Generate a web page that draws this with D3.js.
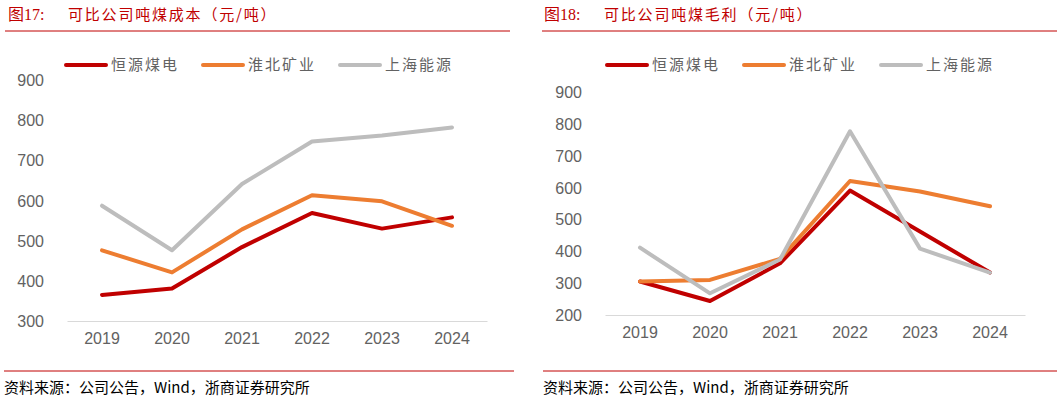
<!DOCTYPE html>
<html>
<head>
<meta charset="utf-8">
<script src="https://cdn.jsdelivr.net/npm/d3@7"></script>
<style>
  body { margin: 0; background: #fff; }
  svg { display: block; }
  .cjk { font-family: "Noto Sans CJK SC", sans-serif; }
  .tick text { font-family: "Liberation Sans", Arial, sans-serif; font-size: 16px; fill: #626262; }
</style>
</head>
<body>
<svg id="chart" width="1057" height="402"></svg>
<script>
// categories
const years = ["2019", "2020", "2021", "2022", "2023", "2024"];
const seriesNames = ["恒源煤电", "淮北矿业", "上海能源"];
const seriesColors = ["#C00000", "#ED7D31", "#BDBDBD"];

// Fig 17: cost per ton (yuan/ton)
const costHengyuan = [365, 381, 484, 569, 530, 558];
const costHuaibei = [476, 421, 528, 613, 598, 537];
const costShanghai = [587, 476, 641, 747, 762, 782];
const costTicks = [300, 400, 500, 600, 700, 800, 900];

// Fig 18: gross margin per ton (yuan/ton)
const marginHengyuan = [305, 244, 362, 590, 462, 333];
const marginHuaibei = [305, 310, 376, 620, 587, 541];
const marginShanghai = [411, 268, 374, 776, 408, 333];
const marginTicks = [200, 300, 400, 500, 600, 700, 800, 900];

const svg = d3.select("#chart");
const red = "#C00000";

function drawPanel(opts) {
  const g = svg.append("g").attr("transform", `translate(${opts.x0},0)`);

  // title
  g.append("text")
    .attr("x", opts.titleX).attr("y", 20)
    .attr("fill", red)
    .style("font-family", "\"Liberation Serif\", \"Noto Sans CJK SC\", serif")
    .style("font-size", "16px")
    .text(opts.figNo);
  g.append("text")
    .attr("class", "cjk")
    .attr("x", opts.titleX + 60).attr("y", 20)
    .attr("fill", red)
    .style("font-size", "15px")
    .style("letter-spacing", "1.8px")
    .text(opts.title);

  g.append("line")
    .attr("x1", opts.ruleX1).attr("x2", opts.ruleX2)
    .attr("y1", 31).attr("y2", 31)
    .attr("stroke", red).attr("stroke-width", 1);

  // scales
  const x = d3.scaleBand().domain(years).range([opts.plotLeft, opts.plotLeft + 420]);
  const y = d3.scaleLinear().domain(opts.domain).range([opts.bottom, opts.top]);

  // y axis labels only
  const yAxis = g.append("g")
    .attr("transform", `translate(${opts.plotLeft - 23},0)`)
    .call(d3.axisLeft(y).tickValues(opts.ticks).tickSize(0).tickPadding(0));
  yAxis.select(".domain").remove();
  yAxis.selectAll(".tick text").attr("dy", "0.35em");

  // x axis
  const xAxis = g.append("g")
    .attr("transform", `translate(0,${opts.bottom})`)
    .call(d3.axisBottom(x).tickSize(0).tickPadding(12));
  xAxis.select(".domain").attr("stroke", "#D9D9D9").attr("stroke-width", 1);

  // lines
  const line = d3.line()
    .x((d, i) => x(years[i]) + x.bandwidth() / 2)
    .y(d => y(d));

  opts.series.forEach((vals, k) => {
    g.append("path")
      .datum(vals)
      .attr("fill", "none")
      .attr("stroke", seriesColors[k])
      .attr("stroke-width", 4)
      .attr("stroke-linejoin", "round")
      .attr("stroke-linecap", "round")
      .attr("d", line);
  });

  // legend
  const legend = g.append("g").attr("transform", `translate(${opts.legendX},${opts.legendY})`);
  seriesNames.forEach((name, k) => {
    const lg = legend.append("g").attr("transform", `translate(${k * 137},0)`);
    lg.append("line")
      .attr("x1", 0).attr("x2", 40).attr("y1", 0).attr("y2", 0)
      .attr("stroke", seriesColors[k]).attr("stroke-width", 4)
      .attr("stroke-linecap", "round");
    lg.append("text")
      .attr("class", "cjk")
      .attr("x", 45).attr("y", 0).attr("dy", "0.35em")
      .attr("fill", "#626262")
      .style("font-size", "15px")
      .style("letter-spacing", "2px")
      .text(name);
  });

  // footer
  g.append("line")
    .attr("x1", opts.footX1).attr("x2", opts.footX2)
    .attr("y1", 371).attr("y2", 371)
    .attr("stroke", red).attr("stroke-width", 1);
  g.append("text")
    .attr("class", "cjk")
    .attr("x", opts.footX1).attr("y", 393)
    .attr("fill", "#000")
    .style("font-size", "15px")
    .text("资料来源：公司公告，Wind，浙商证券研究所");
}

drawPanel({
  x0: 0, titleX: 8, figNo: "图17:", title: "可比公司吨煤成本（元/吨）",
  ruleX1: 5, ruleX2: 510,
  plotLeft: 67, top: 80, bottom: 321,
  domain: [300, 900], ticks: costTicks,
  series: [costHengyuan, costHuaibei, costShanghai],
  legendX: 66, legendY: 65,
  footX1: 4, footX2: 514
});

drawPanel({
  x0: 528, titleX: 16, figNo: "图18:", title: "可比公司吨煤毛利（元/吨）",
  ruleX1: 14, ruleX2: 529,
  plotLeft: 77, top: 91.7, bottom: 315,
  domain: [200, 900], ticks: marginTicks,
  series: [marginHengyuan, marginHuaibei, marginShanghai],
  legendX: 79, legendY: 65,
  footX1: 15, footX2: 529
});
</script>
</body>
</html>
